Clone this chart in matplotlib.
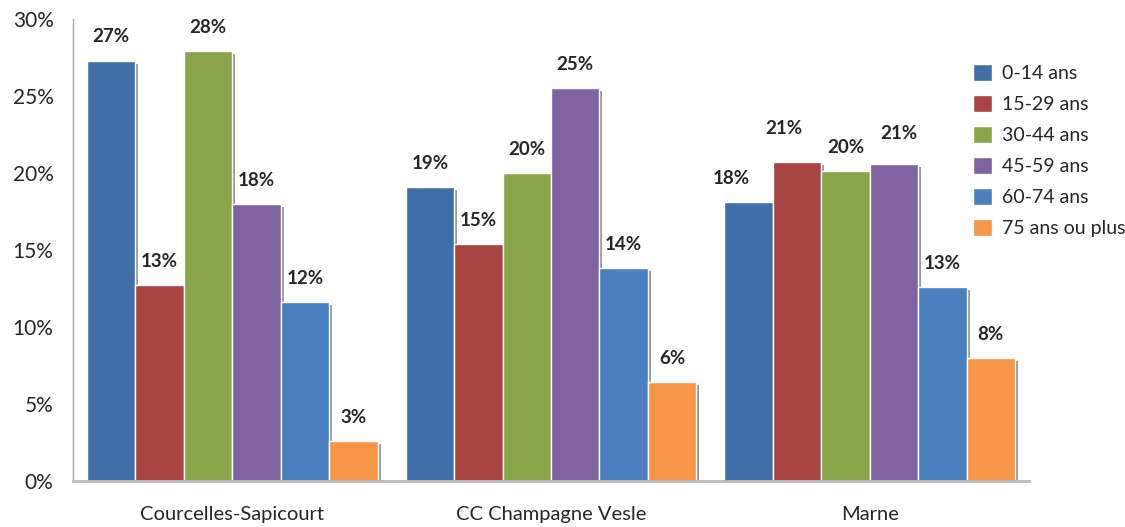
import numpy as np
import matplotlib
matplotlib.use("Agg")
import matplotlib.pyplot as plt
from matplotlib.transforms import ScaledTranslation

plt.rcParams['font.family'] = ['Lato', 'DejaVu Sans']

# data
zones = ["Courcelles-Sapicourt", "CC Champagne Vesle", "Marne"]
ages = ["0-14 ans", "15-29 ans", "30-44 ans", "45-59 ans", "60-74 ans", "75 ans ou plus"]
v_0_14 = [27.3, 19.1, 18.1]
v_15_29 = [12.7, 15.4, 20.7]
v_30_44 = [27.9, 20.0, 20.1]
v_45_59 = [18.0, 25.5, 20.6]
v_60_74 = [11.6, 13.8, 12.6]
v_75 = [2.6, 6.4, 8.0]
series = [v_0_14, v_15_29, v_30_44, v_45_59, v_60_74, v_75]
labels_txt = [["27%", "19%", "18%"], ["13%", "15%", "21%"], ["28%", "20%", "20%"],
              ["18%", "25%", "21%"], ["12%", "14%", "13%"], ["3%", "6%", "8%"]]

colors = ['#3F6FA8', '#A94442', '#8AA64C', '#7F63A0', '#4A80C0', '#F79646']

fig = plt.figure(figsize=(11.25, 5.27), dpi=100)
ax = fig.add_axes([73/1125, 46/527, (1029-73)/1125, (481-19)/527])

x = np.arange(len(zones))
w = 0.152
shadow = ax.transData + ScaledTranslation(3/100, -3/100, fig.dpi_scale_trans)

# Excel moved a few labels in the Marne group (px offsets)
label_shift = {(0, 2): (-17, 0), (1, 2): (-13, 10), (3, 2): (5, 7)}

for i, vals in enumerate(series):
    xs = x + (i - 2.5) * w
    ax.bar(xs, vals, w, color='#9A9A9A', transform=shadow, zorder=1, linewidth=0)
for i, vals in enumerate(series):
    xs = x + (i - 2.5) * w
    ax.bar(xs, vals, w, color=colors[i], edgecolor='white', linewidth=1,
           zorder=2, label=ages[i])
    for j, (xx, v) in enumerate(zip(xs, vals)):
        dx, dy = label_shift.get((i, j), (0, 0))
        ax.annotate(labels_txt[i][j], (xx, v), xytext=(dx * 0.72, 17 + dy * 0.72),
                    textcoords='offset points', ha='center', va='center',
                    fontsize=13.5, fontweight='bold', color='#262626', zorder=3)

ax.set_xlim(-0.5, 2.5)
ax.set_ylim(0, 30)
ax.set_yticks([0, 5, 10, 15, 20, 25, 30])
ax.set_yticklabels(["0%", "5%", "10%", "15%", "20%", "25%", "30%"])
ax.set_xticks(x)
ax.set_xticklabels(zones)
ax.tick_params(axis='y', length=0, pad=14, labelsize=15, labelcolor='#262626')
ax.tick_params(axis='x', length=0, pad=18, labelsize=14.5, labelcolor='#262626')

for s in ['top', 'right']:
    ax.spines[s].set_visible(False)
ax.spines['left'].set_color('#A6A6A6')
ax.spines['left'].set_linewidth(1)
ax.spines['bottom'].set_color('#BDBDBD')
ax.spines['bottom'].set_linewidth(2)
ax.spines['bottom'].set_zorder(4)

ax.legend(loc='upper left', bbox_to_anchor=(965/1125, 1 - 56/527),
          bbox_transform=fig.transFigure, frameon=False, fontsize=14,
          handlelength=1.0, handleheight=1.0, handletextpad=0.5,
          labelspacing=0.65, labelcolor='#262626', borderaxespad=0)

fig.savefig("out.png", dpi=100)
